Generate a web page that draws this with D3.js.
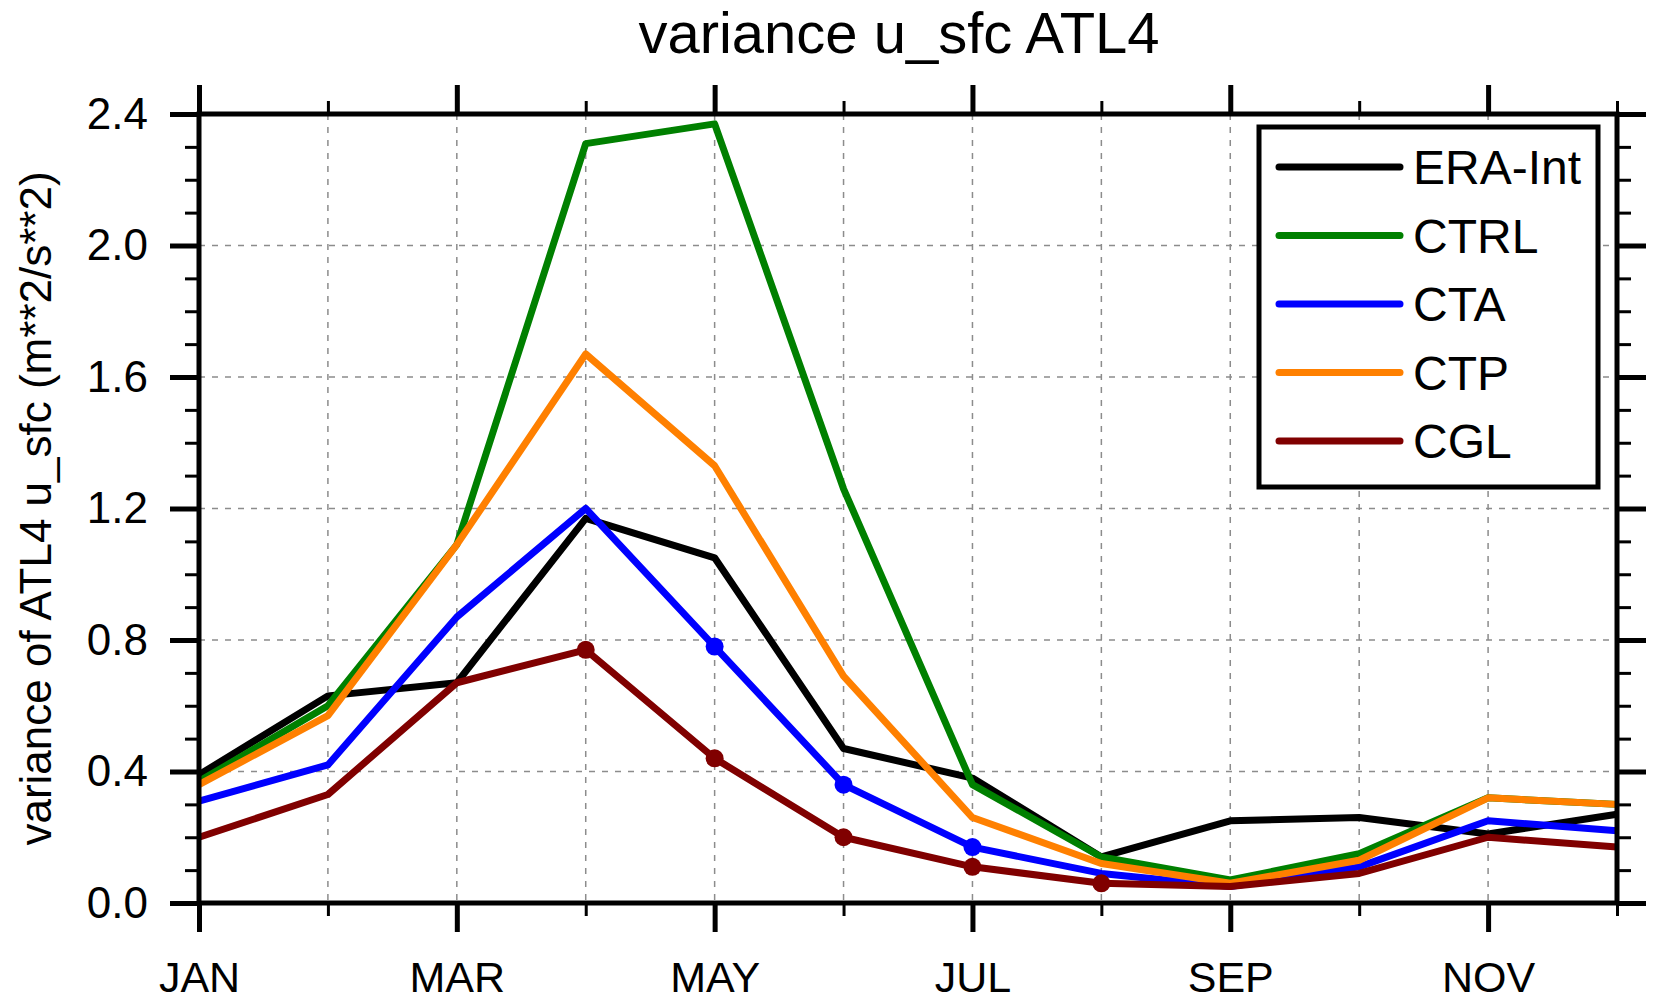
<!DOCTYPE html>
<html>
<head>
<meta charset="utf-8">
<script src="https://cdn.jsdelivr.net/npm/d3@7"></script>
<style>
  html, body { margin: 0; padding: 0; background: #fff; }
  svg { display: block; font-family: "Liberation Sans", Arial, Helvetica, sans-serif; }
</style>
</head>
<body>
<svg id="chart" width="1656" height="999"></svg>
<script>
// ---- data ----
const months = ["JAN","FEB","MAR","APR","MAY","JUN","JUL","AUG","SEP","OCT","NOV","DEC"];
const majorMonthIdx = [0, 2, 4, 6, 8, 10];
const yTicks = [0.0, 0.4, 0.8, 1.2, 1.6, 2.0, 2.4];
const seriesNames = ["ERA-Int", "CTRL", "CTA", "CTP", "CGL"];
const seriesColors = ["#000000", "#008000", "#0000ff", "#ff8000", "#800000"];
const eraInt = [0.39, 0.63, 0.67, 1.17, 1.05, 0.47, 0.38, 0.14, 0.25, 0.26, 0.21, 0.27];
const ctrl   = [0.37, 0.60, 1.09, 2.31, 2.37, 1.26, 0.36, 0.14, 0.07, 0.15, 0.32, 0.30];
const cta    = [0.31, 0.42, 0.87, 1.20, 0.78, 0.36, 0.17, 0.09, 0.05, 0.11, 0.25, 0.22];
const ctp    = [0.36, 0.57, 1.09, 1.67, 1.33, 0.69, 0.26, 0.12, 0.06, 0.13, 0.32, 0.30];
const cgl    = [0.20, 0.33, 0.67, 0.77, 0.44, 0.20, 0.11, 0.06, 0.05, 0.09, 0.20, 0.17];
// months (index) that carry a dot marker, per series
const ctaMarked = [4, 5, 6];
const cglMarked = [3, 4, 5, 6, 7];
const title = "variance u_sfc ATL4";
const yTitle = "variance of ATL4 u_sfc (m**2/s**2)";

const seriesValues = [eraInt, ctrl, cta, ctp, cgl];
const seriesMarks = [[], [], ctaMarked, [], cglMarked];

// ---- layout ----
const L = 199, R = 1617, T = 114, B = 903;
const svg = d3.select("#chart");
const x = d3.scaleLinear().domain([0, 11]).range([L, R]);
const y = d3.scaleLinear().domain([0, 2.4]).range([B, T]);

const minorY = d3.range(0, 25).map(d => d / 10).filter(v => !yTicks.some(t => Math.abs(t - v) < 1e-6));
const minorX = d3.range(0, 12).filter(i => !majorMonthIdx.includes(i));

// grid
const grid = svg.append("g").attr("stroke", "#8c8c8c").attr("stroke-width", 1.5).attr("stroke-dasharray", "6,7");
grid.selectAll("line.v").data(d3.range(1, 11)).join("line")
  .attr("x1", d => x(d)).attr("x2", d => x(d)).attr("y1", T).attr("y2", B);
grid.selectAll("line.h").data(yTicks.slice(1, -1)).join("line")
  .attr("x1", L).attr("x2", R).attr("y1", d => y(d)).attr("y2", d => y(d));

// series
const line = d3.line().x((d, i) => x(i)).y(d => y(d));
seriesValues.forEach((vals, k) => {
  svg.append("path").datum(vals)
    .attr("d", line).attr("fill", "none")
    .attr("stroke", seriesColors[k]).attr("stroke-width", 7)
    .attr("stroke-linejoin", "round").attr("stroke-linecap", "butt");
  svg.append("g").selectAll("circle").data(seriesMarks[k]).join("circle")
    .attr("cx", i => x(i)).attr("cy", i => y(vals[i])).attr("r", 9)
    .attr("fill", seriesColors[k]);
});

// axes
function styleAxis(g, major) {
  g.select(".domain").remove();
  g.selectAll(".tick line").attr("stroke", "#000").attr("stroke-width", major ? 5 : 3);
  g.selectAll(".tick text").attr("fill", "#000");
}
const tickFont = 44;
// left
svg.append("g").attr("transform", `translate(${L},0)`)
  .call(d3.axisLeft(y).tickValues(yTicks).tickFormat(d3.format(".1f")).tickSizeInner(29).tickSizeOuter(0).tickPadding(22))
  .call(g => styleAxis(g, true))
  .selectAll("text").attr("font-size", tickFont).attr("font-family", "Liberation Sans, Arial, sans-serif");
svg.append("g").attr("transform", `translate(${L},0)`)
  .call(d3.axisLeft(y).tickValues(minorY).tickFormat("").tickSizeInner(14).tickSizeOuter(0))
  .call(g => styleAxis(g, false));
// right
svg.append("g").attr("transform", `translate(${R},0)`)
  .call(d3.axisRight(y).tickValues(yTicks).tickFormat("").tickSizeInner(29).tickSizeOuter(0))
  .call(g => styleAxis(g, true));
svg.append("g").attr("transform", `translate(${R},0)`)
  .call(d3.axisRight(y).tickValues(minorY).tickFormat("").tickSizeInner(14).tickSizeOuter(0))
  .call(g => styleAxis(g, false));
// bottom
svg.append("g").attr("transform", `translate(0,${B})`)
  .call(d3.axisBottom(x).tickValues(majorMonthIdx).tickFormat(i => months[i]).tickSizeInner(29).tickSizeOuter(0).tickPadding(29))
  .call(g => styleAxis(g, true))
  .selectAll("text").attr("font-size", 43).attr("font-family", "Liberation Sans, Arial, sans-serif");
svg.append("g").attr("transform", `translate(0,${B})`)
  .call(d3.axisBottom(x).tickValues(minorX).tickFormat("").tickSizeInner(13).tickSizeOuter(0))
  .call(g => styleAxis(g, false));
// top
svg.append("g").attr("transform", `translate(0,${T})`)
  .call(d3.axisTop(x).tickValues(majorMonthIdx).tickFormat("").tickSizeInner(29).tickSizeOuter(0))
  .call(g => styleAxis(g, true));
svg.append("g").attr("transform", `translate(0,${T})`)
  .call(d3.axisTop(x).tickValues(minorX).tickFormat("").tickSizeInner(13).tickSizeOuter(0))
  .call(g => styleAxis(g, false));

// frame
svg.append("rect").attr("x", L).attr("y", T).attr("width", R - L).attr("height", B - T)
  .attr("fill", "none").attr("stroke", "#000").attr("stroke-width", 5);

// title
svg.append("text").attr("x", 899).attr("y", 53).attr("text-anchor", "middle")
  .attr("font-size", 58).attr("fill", "#000").text(title);
// y title
svg.append("text").attr("transform", `translate(51,${(T + B) / 2}) rotate(-90)`)
  .attr("text-anchor", "middle").attr("font-size", 44).attr("fill", "#000").text(yTitle);

// legend
const lg = svg.append("g");
lg.append("rect").attr("x", 1259).attr("y", 127).attr("width", 339).attr("height", 360)
  .attr("fill", "#fff").attr("stroke", "#000").attr("stroke-width", 5);
const rowY = d3.scalePoint().domain(seriesNames).range([167, 441]);
seriesNames.forEach((n, k) => {
  lg.append("line").attr("x1", 1279).attr("x2", 1400).attr("y1", rowY(n)).attr("y2", rowY(n))
    .attr("stroke", seriesColors[k]).attr("stroke-width", 7).attr("stroke-linecap", "round");
  lg.append("text").attr("x", 1413).attr("y", rowY(n)).attr("dy", "0.36em")
    .attr("font-size", 48).attr("fill", "#000").text(n);
});
</script>
</body>
</html>
